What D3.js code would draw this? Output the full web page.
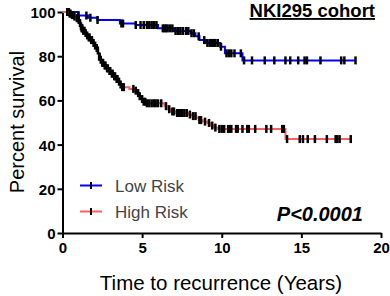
<!DOCTYPE html>
<html>
<head>
<meta charset="utf-8">
<script src="https://cdn.jsdelivr.net/npm/d3@7"></script>
<style>
  body { margin: 0; background: #fff; }
  svg { display: block; font-family: "Liberation Sans", Arial, sans-serif; }
</style>
</head>
<body>
<script>
'use strict';

// Kaplan-Meier steps (time in years, percent survival after the step)
const lowTimes = [0, 1.0, 1.6, 2.2, 3.6, 4.6, 6.0, 7.0, 8.05, 8.35, 8.6, 9.0, 9.9, 10.2, 11.3]
const lowSurv = [100, 98.4, 97.4, 96.4, 94.8, 94.1, 92.6, 91.4, 90.4, 89.0, 87.3, 86.0, 84.3, 81.3, 78.1]
const lowCensor = [0.3, 0.4, 1.0, 1.5, 1.75, 2.2, 3.7, 3.8, 4.6, 4.9, 5.1, 5.3, 5.45, 5.6, 5.75, 5.9,
  6.3, 6.4, 6.5, 6.6, 6.75, 6.9, 7.1, 7.25, 7.4, 7.55, 7.75, 7.9, 8.1, 8.25, 8.55, 8.9, 9.1, 9.25, 9.4,
  9.5, 9.6, 9.75, 9.95, 10.3, 10.45, 10.6, 10.8, 11.2, 11.4, 11.9, 12.7, 13.3, 14.0, 14.3, 14.8, 15.2,
  15.35, 16.2, 17.5, 17.7, 18.4]

const highTimes = [0, 0.4, 0.55, 0.7, 0.85, 1.0, 1.05, 1.12, 1.2, 1.3, 1.4, 1.5, 1.6, 1.75, 1.9, 2.0,
  2.1, 2.2, 2.25, 2.3, 2.35, 2.45, 2.6, 2.75, 2.9, 3.05, 3.2, 3.35, 3.5, 3.6, 3.7, 4.2, 4.5, 4.7, 4.8,
  4.9, 5.05, 5.3, 6.4, 6.6, 6.8, 7.1, 7.9, 8.1, 8.4, 8.55, 8.8, 9.1, 9.3, 9.5, 9.75, 14.0]
const highSurv = [100, 99.3, 98.6, 97.9, 97.2, 96.4, 95.0, 93.5, 92.6, 91.5, 90.5, 89.4, 88.5, 87.3,
  86.0, 84.8, 83.7, 82.6, 81.2, 79.8, 78.4, 77.0, 75.8, 74.5, 73.3, 72.1, 70.9, 69.7, 68.5, 67.2, 66.0,
  65.2, 64.4, 63.3, 61.9, 60.6, 59.4, 58.7, 57.4, 56.0, 55.0, 54.3, 53.6, 52.9, 52.2, 51.1, 50.4, 49.8,
  48.6, 47.7, 47.1, 42.5]
const highCensor = [0.3, 0.45, 0.5, 0.6, 0.68, 0.75, 0.9, 0.95, 1.02, 1.1, 1.16, 1.2, 1.25, 1.3, 1.38,
  1.45, 1.55, 1.65, 1.7, 1.8, 1.85, 1.95, 2.05, 2.15, 2.22, 2.3, 2.33, 2.4, 2.5, 2.55, 2.65, 2.7, 2.8,
  2.85, 2.95, 3.0, 3.1, 3.15, 3.25, 3.3, 3.4, 3.45, 3.55, 3.65, 3.75, 3.85, 4.45, 4.6, 4.75, 4.85, 5.0,
  5.1, 5.2, 5.3, 5.45, 5.6, 5.75, 5.85, 6.0, 6.2, 6.5, 6.7, 6.9, 7.0, 7.2, 7.3, 7.4, 7.5, 7.65, 7.8,
  8.0, 8.2, 8.35, 8.6, 8.7, 8.95, 9.2, 9.4, 9.6, 9.85, 10.0, 10.15, 10.4, 10.5, 10.6, 10.9, 11.0,
  11.3, 11.6, 11.7, 12.1, 12.8, 13.1, 13.8, 13.9, 14.1, 14.9, 15.1, 15.4, 15.85, 16.6, 17.15, 17.25,
  17.4, 18.1]

const xTicks = [0, 5, 10, 15, 20]
const yTicks = [0, 20, 40, 60, 80, 100]
const groups = ["Low Risk", "High Risk"]
const groupColors = ["#0000ff", "#ff5f5f"]

const m = {
  width: 390,
  height: 296,
  left: 62.5,
  right: 381,
  top: 12,
  bottom: 233
}

let svg = d3.select('body')
  .append('svg')
  .attr('width', m.width)
  .attr('height', m.height)

let xScale = d3.scaleLinear().domain([0, 20]).range([m.left, m.right])
let yScale = d3.scaleLinear().domain([0, 100]).range([m.bottom, m.top])

function survAt(times, surv, t) {
  let i = d3.bisectRight(times, t) - 1
  return surv[Math.max(i, 0)]
}

function drawAxes() {
  let xAxis = d3.axisBottom(xScale).tickValues(xTicks).tickSize(5).tickSizeOuter(0).tickPadding(4)
  let gx = svg.append('g')
    .attr('transform', 'translate(0,' + m.bottom + ')')
    .call(xAxis)
  let yAxis = d3.axisLeft(yScale).tickValues(yTicks).tickSize(5).tickSizeOuter(0).tickPadding(2)
  let gy = svg.append('g')
    .attr('transform', 'translate(' + m.left + ',0)')
    .call(yAxis)

  ;[gx, gy].forEach(g => {
    g.select('.domain').attr('stroke', '#000').attr('stroke-width', 2)
    g.selectAll('.tick line').attr('stroke', '#000').attr('stroke-width', 2)
    g.selectAll('.tick text')
      .attr('fill', '#000')
      .style('font-family', '"Liberation Sans", Arial, sans-serif')
      .style('font-size', '15px')
      .style('font-weight', 'bold')
  })
  gy.selectAll('.tick text').attr('dy', '0.36em')
  gx.selectAll('.tick text').attr('dy', '0.72em')
}

function drawCurve(times, surv, censor, color) {
  let pts = times.map((t, i) => [t, surv[i]])
  pts.push([d3.max(censor), surv[surv.length - 1]])

  let line = d3.line()
    .x(d => xScale(d[0]))
    .y(d => yScale(d[1]))
    .curve(d3.curveStepAfter)

  svg.append('path')
    .datum(pts)
    .attr('fill', 'none')
    .attr('stroke', color)
    .attr('stroke-width', 2)
    .attr('d', line)

  svg.append('g').selectAll('line')
    .data(censor)
    .enter().append('line')
      .attr('x1', d => xScale(d))
      .attr('x2', d => xScale(d))
      .attr('y1', d => yScale(survAt(times, surv, d)) - 4)
      .attr('y2', d => yScale(survAt(times, surv, d)) + 4)
      .attr('stroke', '#000')
      .attr('stroke-width', 2.5)
}

function drawLabels() {
  svg.append('text')
    .attr('transform', 'translate(24, 122)rotate(-90)')
    .attr('text-anchor', 'middle')
    .style('font-size', '20px')
    .text('Percent survival')

  svg.append('text')
    .attr('x', 221)
    .attr('y', 290)
    .attr('text-anchor', 'middle')
    .style('font-size', '20.5px')
    .text('Time to recurrence (Years)')

  svg.append('text')
    .attr('x', 375)
    .attr('y', 17)
    .attr('text-anchor', 'end')
    .style('font-size', '18.5px')
    .style('font-weight', 'bold')
    .style('text-decoration', 'underline')
    .text('NKI295 cohort')

  svg.append('text')
    .attr('x', 363)
    .attr('y', 221)
    .attr('text-anchor', 'end')
    .style('font-size', '20px')
    .style('font-weight', 'bold')
    .style('font-style', 'italic')
    .text('P<0.0001')
}

function drawLegend() {
  let legend = svg.selectAll('.legend')
    .data(groups)
    .enter().append('g')
    .attr('class', 'legend')
    .attr('transform', (d, i) => 'translate(80,' + (185.5 + i * 26) + ')')

  legend.append('line')
    .attr('x1', 0).attr('x2', 22)
    .attr('stroke', (d, i) => groupColors[i])
    .attr('stroke-width', 2)

  legend.append('line')
    .attr('x1', 11).attr('x2', 11)
    .attr('y1', -3.5).attr('y2', 3.5)
    .attr('stroke', '#000')
    .attr('stroke-width', 2)

  legend.append('text')
    .attr('x', 35)
    .attr('y', 6)
    .style('font-size', '17px')
    .attr('fill', '#444')
    .text(d => d)
}

drawAxes()
drawCurve(lowTimes, lowSurv, lowCensor, groupColors[0])
drawCurve(highTimes, highSurv, highCensor, groupColors[1])
drawLabels()
drawLegend()
</script>
</body>
</html>
